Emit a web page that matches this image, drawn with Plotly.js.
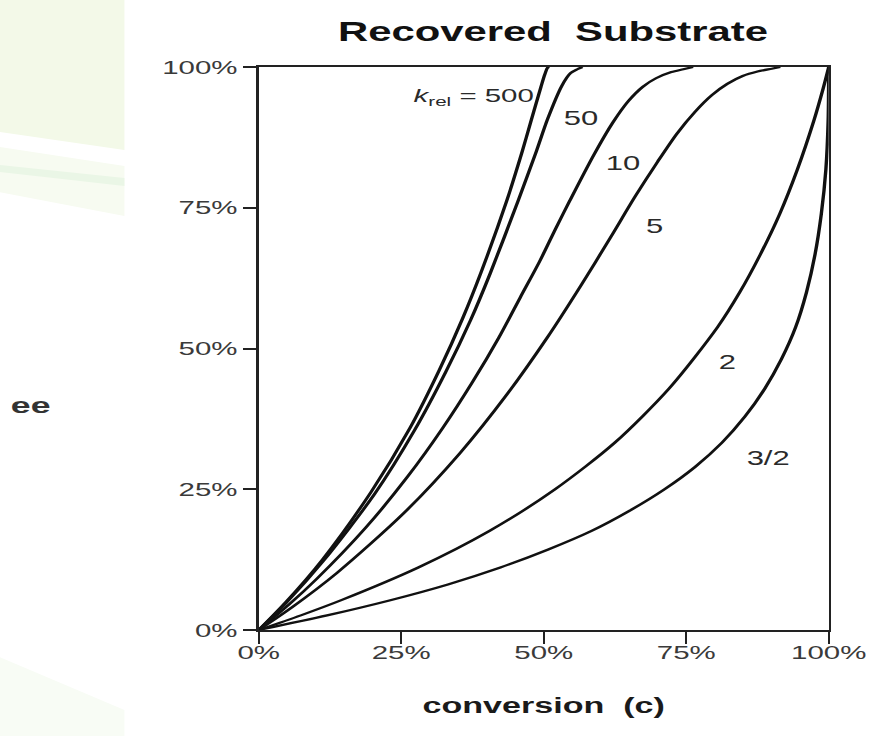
<!DOCTYPE html>
<html>
<head>
<meta charset="utf-8">
<script src="https://cdn.plot.ly/plotly-3.0.1.min.js"></script>
<style>
  html, body { margin: 0; padding: 0; background: #ffffff; overflow: hidden; }
  #wrap { width: 869px; height: 736px; overflow: hidden; }
  #chart { width: 561px; height: 736px; transform-origin: 0 0; }
</style>
</head>
<body>
<div id="wrap"><div id="chart"></div></div>
<script>
// ---- data (conversion c, ee of recovered substrate) ----
var tickVals = [0, 0.25, 0.5, 0.75, 1];
var tickText = ["0%", "25%", "50%", "75%", "100%"];

var seriesNames = ["500", "50", "10", "5", "2", "3/2"];

var c500  = [0, 0.048, 0.111, 0.197, 0.265, 0.317, 0.358, 0.390, 0.435, 0.462, 0.478, 0.495, 0.502, 0.507, 0.510];
var ee500 = [0, 0.050, 0.124, 0.245, 0.358, 0.462, 0.554, 0.635, 0.762, 0.849, 0.905, 0.964, 0.987, 0.999, 1.0];

var c50  = [0, 0.049, 0.113, 0.203, 0.273, 0.328, 0.372, 0.406, 0.455, 0.487, 0.507, 0.532, 0.547, 0.559, 0.568];
var ee50 = [0, 0.049, 0.122, 0.241, 0.354, 0.458, 0.551, 0.633, 0.762, 0.850, 0.908, 0.967, 0.989, 0.996, 1.0];

var c10  = [0, 0.053, 0.102, 0.188, 0.261, 0.323, 0.376, 0.421, 0.459, 0.493, 0.521, 0.546, 0.588, 0.621, 0.649, 0.674, 0.697, 0.724, 0.745, 0.762];
var ee10 = [0, 0.045, 0.091, 0.182, 0.272, 0.359, 0.442, 0.519, 0.591, 0.655, 0.713, 0.763, 0.844, 0.901, 0.940, 0.965, 0.980, 0.991, 0.996, 1.0];

var c5  = [0, 0.058, 0.138, 0.255, 0.353, 0.436, 0.506, 0.566, 0.617, 0.661, 0.700, 0.734, 0.766, 0.795, 0.822, 0.849, 0.875, 0.900, 0.915];
var ee5 = [0, 0.040, 0.102, 0.208, 0.314, 0.419, 0.519, 0.613, 0.697, 0.771, 0.832, 0.882, 0.921, 0.950, 0.970, 0.984, 0.992, 0.997, 1.0];

var c2  = [0, 0.074, 0.145, 0.280, 0.405, 0.520, 0.625, 0.720, 0.805, 0.844, 0.880, 0.914, 0.945, 0.974, 0.990, 1.0];
var ee2 = [0, 0.026, 0.053, 0.111, 0.176, 0.250, 0.333, 0.429, 0.538, 0.600, 0.667, 0.739, 0.818, 0.905, 0.961, 1.0];

var c15  = [0, 0.120, 0.231, 0.332, 0.424, 0.508, 0.584, 0.651, 0.712, 0.766, 0.813, 0.853, 0.888, 0.917, 0.942, 0.961, 0.976, 0.987, 0.995, 0.999, 1.0];
var ee15 = [0, 0.026, 0.053, 0.081, 0.111, 0.143, 0.176, 0.212, 0.250, 0.290, 0.333, 0.379, 0.429, 0.481, 0.538, 0.600, 0.667, 0.739, 0.818, 0.905, 1.0];

var xs = [c500, c50, c10, c5, c2, c15];
var ys = [ee500, ee50, ee10, ee5, ee2, ee15];

// ---- geometry: the reference is a horizontally stretched picture, so the
// plot is drawn narrower and stretched back to 869 px with CSS ----
var FW = 869, H = 736;           // final picture size
var W = 561;                     // drawing width before the stretch
var S = FW / W;                  // horizontal stretch factor
document.getElementById("chart").style.transform = "scaleX(" + S + ")";

var M = { l: 259 / S, r: 41 / S, t: 67, b: 106 };
var PW = W - M.l - M.r, PH = H - M.t - M.b;
function px(X) { return (X / S - M.l) / PW; }      // final px -> paper x
function py(Y) { return (H - M.b - Y) / PH; }      // final px -> paper y
function poly(pts) {
  return pts.map(function (p, i) { return (i ? "L" : "M") + px(p[0]) + "," + py(p[1]); }).join(" ") + " Z";
}

var traces = xs.map(function (x, i) {
  return {
    type: "scatter", mode: "lines", x: x, y: ys[i], name: seriesNames[i],
    line: { color: "#111111", width: 2.2, shape: "spline", smoothing: 0.8 },
    hoverinfo: "skip", showlegend: false
  };
});

var FONT = "Liberation Sans, Arial, Helvetica, sans-serif";
var labelFont = { family: FONT, size: 20, color: "#2a2a2a" };

var bgShapes = [
  { pts: [[0, 0], [125, 0], [125, 150], [0, 132]], c: "#f3f9e8" },
  { pts: [[0, 147], [125, 166], [125, 216], [0, 192]], c: "#f7fbf1" },
  { pts: [[0, 165], [125, 178], [125, 186], [0, 172]], c: "#eaf6e6" },
  { pts: [[0, 657], [125, 710], [125, 736], [0, 736]], c: "#f8fcf5" }
].map(function (s) {
  return { type: "path", xref: "paper", yref: "paper", layer: "below",
           path: poly(s.pts), fillcolor: s.c, line: { width: 0 } };
});

var axisCommon = {
  range: [0, 1], tickvals: tickVals, ticktext: tickText,
  ticks: "outside", tickcolor: "#222",
  showline: true, linecolor: "#222", mirror: true,
  showgrid: false, zeroline: false, fixedrange: true,
  tickfont: { family: FONT, size: 19, color: "#3a3a3a" }
};

var layout = {
  width: W, height: H, margin: M,
  paper_bgcolor: "rgba(0,0,0,0)", plot_bgcolor: "#ffffff",
  showlegend: false,
  title: {
    text: "<b>Recovered\u00a0 Substrate</b>",
    font: { family: FONT, size: 27, color: "#111" },
    xref: "container", yref: "container", x: 553 / FW, y: 1 - 32 / H,
    xanchor: "center", yanchor: "middle"
  },
  xaxis: Object.assign({}, axisCommon, {
    ticklen: 12, tickwidth: 1.5, linewidth: 2, ticklabelstandoff: -8,
    title: { text: "<b>conversion\u00a0 (c)</b>", font: { family: FONT, size: 22, color: "#1a1a1a" }, standoff: 36 }
  }),
  yaxis: Object.assign({}, axisCommon, { ticklen: 13 / S, tickwidth: 2, linewidth: 1.5 }),
  shapes: bgShapes,
  annotations: [
    { text: "<i>k</i><sub>rel</sub> = 500", x: 0.489, y: 0.947, xanchor: "right", yanchor: "middle", showarrow: false,
      font: { family: FONT, size: 19, color: "#2a2a2a" } },
    { text: "50", x: 0.564, y: 0.909, showarrow: false, font: labelFont },
    { text: "10", x: 0.638, y: 0.8295, showarrow: false, font: labelFont },
    { text: "5", x: 0.694, y: 0.7176, showarrow: false, font: labelFont },
    { text: "2", x: 0.821, y: 0.476, showarrow: false, font: labelFont },
    { text: "3/2", x: 0.893, y: 0.3055, showarrow: false, font: labelFont },
    { text: "<b>ee</b>", xref: "paper", yref: "paper", x: px(32), y: py(405), xanchor: "center", yanchor: "middle",
      showarrow: false, font: { family: FONT, size: 23, color: "#333333" } }
  ]
};

Plotly.newPlot("chart", traces, layout, { displayModeBar: false, staticPlot: true });
</script>
</body>
</html>
